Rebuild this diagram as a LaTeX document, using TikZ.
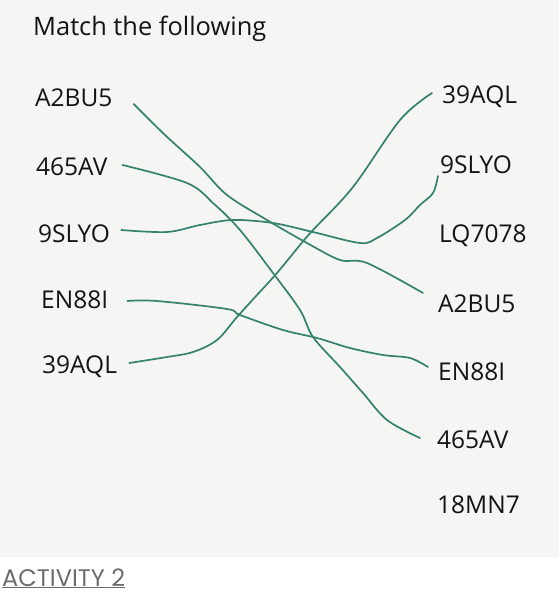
\documentclass[tikz,border=0pt]{standalone}
\usepackage{fontspec}
\setmainfont{Open Sans}
\newfontfamily\popfont{Poppins}
\definecolor{pen}{RGB}{52,130,110}
\definecolor{paper}{RGB}{245,245,243}
\definecolor{capt}{RGB}{108,108,108}
\begin{document}
\begin{tikzpicture}[x=1pt,y=-1pt,line join=round,line cap=round,
	lbl/.style={inner sep=0pt,font=\fontsize{24.5}{28}\selectfont,text=black!92},
	wire/.style={pen,line width=1.7pt}]
	\useasboundingbox (0,0) rectangle (559,594);
	\fill[paper] (0,0) rectangle (559,557);
	\node[anchor=base west,inner sep=0pt,font=\fontsize{25.4}{30}\selectfont,text=black!92] (title) at (33,36) {Match the following};
	% left column
	\node[lbl,anchor=base west] (la) at (35,106) {A2BU5};
	\node[lbl,anchor=base west] (lb) at (36,175) {465AV};
	\node[lbl,anchor=base west] (lc) at (38,242) {9SLYO};
	\node[lbl,anchor=base west] (ld) at (41,308) {EN88I};
	\node[lbl,anchor=base west] (le) at (42,373) {39AQL};
	% right column
	\node[lbl,anchor=base west] (re) at (442,103) {39AQL};
	\node[lbl,anchor=base west] (rc) at (440,173) {9SLYO};
	\node[lbl,anchor=base west] (rx) at (439,242) {LQ7078};
	\node[lbl,anchor=base west] (ra) at (438,312) {A2BU5};
	\node[lbl,anchor=base west] (rd) at (438,380) {EN88I};
	\node[lbl,anchor=base west] (rb) at (437,448) {465AV};
	\node[lbl,anchor=base west] (ry) at (437,513) {18MN7};
	% the drawn matches
	\draw[wire] plot[smooth,tension=.55] coordinates {([shift={(21,-2)}]la.base east) (165,135) (200,167) (227,195) (267,220) (307,243) (340,260) (367,263) ([shift={(-15,-19)}]ra.base west)};
	\draw[wire] plot[smooth,tension=.55] coordinates {([shift={(15,-10)}]lb.base east) (187,183) (213,203) (240,230) (273,273) (300,310) (313,337) (340,367) (363,393) (387,420) ([shift={(-17,-10)}]rb.base west)};
	\draw[wire] plot[smooth,tension=.55] coordinates {([shift={(11,-12)}]lc.base east) (167,232) (200,225) (233,220) (273,223) (313,232) (360,243) (377,238) (405,220) (420,205) (433,193) ([shift={(-2,3)}]rc.base west)};
	\draw[wire] plot[smooth,tension=.55] coordinates {([shift={(19,-7)}]ld.base east) (157,301) (227,309) (240,315) (283,330) (317,338) (350,348) (383,355) (410,358) ([shift={(-10,-13)}]rd.base west)};
	\draw[wire] plot[smooth,tension=.55] coordinates {([shift={(12,-10)}]le.base east) (167,357) (193,352) (217,340) (237,317) (257,295) (277,273) (300,245) (313,230) (353,187) (400,120) ([shift={(-10,-10)}]re.base west)};
	\node[anchor=base west,inner sep=0pt,font=\popfont\fontsize{24}{28}\selectfont,text=capt] (act) at (2,586) {\underline{ACTIVITY 2}};
\end{tikzpicture}
\end{document}
